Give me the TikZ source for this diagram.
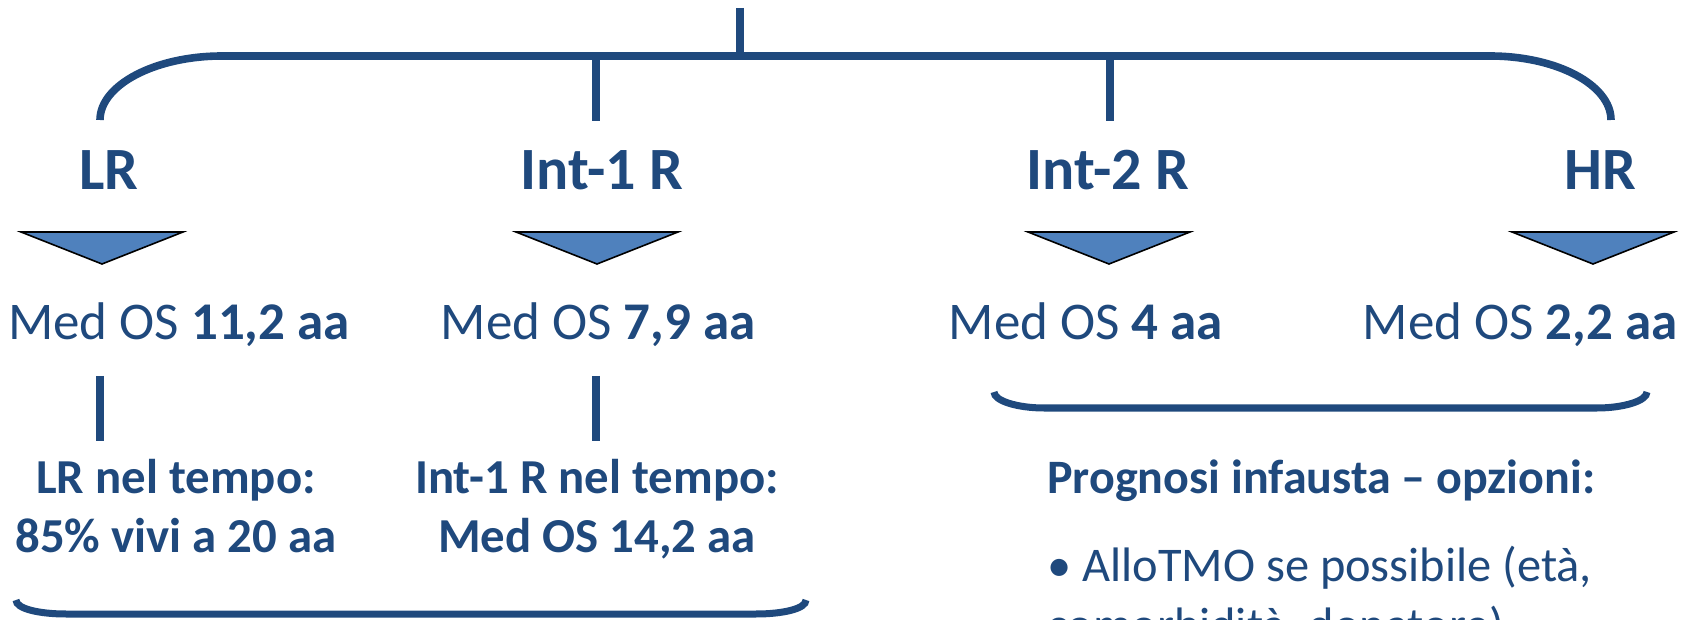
\documentclass[tikz,border=0pt]{standalone}
\usepackage{fontspec}
\setmainfont{Carlito}
\definecolor{navy}{HTML}{1F497D}
\definecolor{tri}{HTML}{4F81BD}
\tikzset{
  conn/.style={draw=navy, line width=3.8pt},
  brace/.style={draw=navy, line width=3.5pt},
  arrowtri/.style={fill=tri, draw=black, line width=0.8pt, line join=miter},
  risk/.style={text=navy, font=\fontsize{30}{36}\selectfont\bfseries, anchor=base, inner sep=0pt},
  medos/.style={text=navy, font=\fontsize{26.5}{32}\selectfont, anchor=base, inner sep=0pt},
  note/.style={text=navy, font=\fontsize{24.4}{30}\selectfont\bfseries, anchor=base, inner sep=0pt},
  opt/.style={text=navy, font=\fontsize{24.2}{30}\selectfont, anchor=base west, inner sep=0pt},
}
\begin{document}
\begin{tikzpicture}[x=0.5pt, y=-0.5pt]
\useasboundingbox (0,0) rectangle (1693,620);
\clip (0,0) rectangle (1693,620);
% top tree
\coordinate (top) at (740,8);
\coordinate (hub) at (740,56);
\coordinate (lend) at (100,120);
\coordinate (rend) at (1611,120);
\coordinate (b1t) at (596,56);
\coordinate (b1b) at (596,121);
\coordinate (b2t) at (1110,56);
\coordinate (b2b) at (1110,121);
\draw[conn] (top) -- (hub);
\draw[conn] (lend) .. controls (100,85) and (155,56) .. (222,56) -- (1490,56) .. controls (1557,56) and (1611,85) .. (rend);
\draw[conn] (b1t) -- (b1b);
\draw[conn] (b2t) -- (b2b);
% risk labels
\node[risk] (lr) at (109,190) {LR};
\node[risk] (i1) at (602,190) {Int-1 R};
\node[risk] (i2) at (1108,190) {Int-2 R};
\node[risk] (hr) at (1600,190) {HR};
% triangles
\foreach \cx/\nm in {102/ta,597/tb,1109/tc,1593/td}{
  \draw[arrowtri] (\cx-81,232) -- (\cx+81,232) -- (\cx,264) -- cycle;
}
% med OS
\node[medos] (m1) at (179,340) {Med OS \textbf{11,2 aa}};
\node[medos] (m2) at (598,340) {Med OS \textbf{7,9 aa}};
\node[medos] (m3) at (1086,340) {Med OS \textbf{4 aa}};
\node[medos] (m4) at (1520,340) {Med OS \textbf{2,2 aa}};
% small verticals
\coordinate (v1t) at (100,376);
\coordinate (v1b) at (100,441);
\coordinate (v2t) at (596,376);
\coordinate (v2b) at (596,441);
\draw[conn] (v1t) -- (v1b);
\draw[conn] (v2t) -- (v2b);
% notes
\node[note] (n1a) at (176,493) {LR nel tempo:};
\node[note] (n1b) at (176,552) {85\% vivi a 20 aa};
\node[note] (n2a) at (597,493) {Int-1 R nel tempo:};
\node[note] (n2b) at (597,552) {Med OS 14,2 aa};
% braces
\coordinate (bl1) at (16,600);
\coordinate (bl2) at (806,600);
\draw[brace] (bl1) .. controls (16,609) and (40,614) .. (66,614) -- (756,614) .. controls (782,614) and (806,609) .. (bl2);
\coordinate (br1) at (994,392);
\coordinate (br2) at (1647,392);
\draw[brace] (br1) .. controls (994,401) and (1018,408) .. (1044,408) -- (1597,408) .. controls (1623,408) and (1647,401) .. (br2);
% options
\node[note, font=\fontsize{24}{30}\selectfont\bfseries, anchor=base west] (pg) at (1047,493) {Prognosi infausta -- opzioni:};
\node[opt] (o1) at (1047,581) {• AlloTMO se possibile (età,};
\node[opt] (o2) at (1047,641) {comorbidità, donatore)};
\end{tikzpicture}
\end{document}
